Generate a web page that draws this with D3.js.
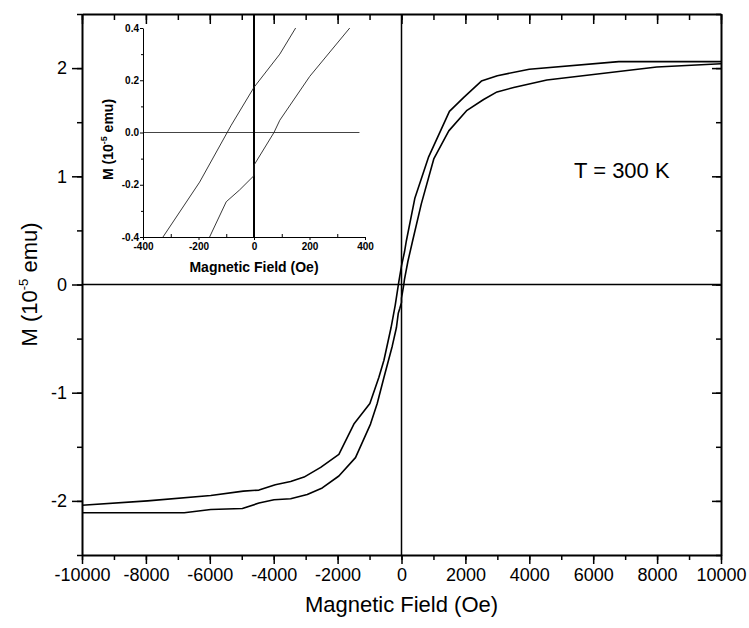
<!DOCTYPE html>
<html>
<head>
<meta charset="utf-8">
<script src="https://cdn.jsdelivr.net/npm/d3@7"></script>
<style>
  body { margin: 0; background: #fff; }
  text { font-family: "Liberation Sans", Arial, sans-serif; fill: #000; }
</style>
</head>
<body>
<div id="chart"></div>
<script>
// Hysteresis loop, field in Oe, M in 10^-5 emu
// descending branch (+10000 -> -10000)
const downField = [10000, 6800, 4000, 3000, 2500, 1950, 1500, 850, 420, 150, 93, 0, -82, -196, -328, -550, -710, -990, -1490, -1960, -2530, -3050, -3470, -3950, -4460, -4950, -5970, -7950, -10000];
const downM     = [2.06, 2.06, 1.99, 1.93, 1.88, 1.73, 1.60, 1.18, 0.80, 0.40, 0.30, 0.173, 0.028, -0.19, -0.40, -0.70, -0.86, -1.10, -1.29, -1.57, -1.69, -1.78, -1.82, -1.85, -1.90, -1.91, -1.95, -2.00, -2.04];

// ascending branch (-10000 -> +10000)
const upField = [-10000, -6800, -5970, -4980, -4460, -3990, -3470, -2950, -2480, -1960, -1440, -970, -760, -550, -290, -160, -100, -52, 0, 0, 72, 93, 201, 345, 620, 1010, 1480, 2050, 2570, 2990, 3510, 4550, 7990, 10000];
const upM     = [-2.11, -2.11, -2.08, -2.07, -2.02, -1.99, -1.98, -1.94, -1.88, -1.77, -1.60, -1.29, -1.10, -0.86, -0.57, -0.40, -0.265, -0.22, -0.165, -0.125, 0, 0.047, 0.215, 0.40, 0.745, 1.16, 1.42, 1.61, 1.71, 1.78, 1.82, 1.89, 2.01, 2.04];

// tick values
const xMajor = d3.range(-10000, 10001, 2000);
const xMinor = d3.range(-10000, 10001, 1000);
const yMajor = [-2, -1, 0, 1, 2];
const yMinor = [-2.5, -2, -1.5, -1, -0.5, 0, 0.5, 1, 1.5, 2, 2.5];
const insetXMajor = [-400, -200, 0, 200, 400];
const insetXMinor = [-300, -100, 100, 300];
const insetYMajor = [-0.4, -0.2, 0, 0.2, 0.4];
const insetYMinor = [-0.3, -0.1, 0.1, 0.3];

const downBranch = downField.map((f, i) => ({ f, m: downM[i] }));
const upBranch = upField.map((f, i) => ({ f, m: upM[i] }));

const W = 749, H = 628;
const svg = d3.select("#chart").append("svg")
  .attr("width", W)
  .attr("height", H);

// Main axes
const x = d3.scaleLinear().domain([-10000, 10000]).range([82, 721]);
const y = d3.scaleLinear().domain([-2.5, 2.5]).range([555, 14]);

// zero lines
svg.append("line")
  .attr("x1", x(-10000)).attr("x2", x(10000))
  .attr("y1", y(0)).attr("y2", y(0))
  .attr("stroke", "#000").attr("stroke-width", 1.5);
svg.append("line")
  .attr("x1", x(0)).attr("x2", x(0))
  .attr("y1", y(2.5)).attr("y2", y(-2.5))
  .attr("stroke", "#000").attr("stroke-width", 1.5);

// curves
const line = d3.line().x(d => x(d.f)).y(d => y(d.m));
[downBranch, upBranch].forEach(b => {
  svg.append("path")
    .datum(b)
    .attr("fill", "none")
    .attr("stroke", "#000")
    .attr("stroke-width", 1.6)
    .attr("stroke-linejoin", "round")
    .attr("d", line);
});

// bottom axis (outward ticks)
svg.append("g")
  .attr("transform", `translate(0,${y(-2.5)})`)
  .call(d3.axisBottom(x).tickValues(xMinor).tickSize(5).tickFormat(""))
  .call(g => g.select(".domain").remove())
  .selectAll("line").attr("stroke-width", 1.5);
svg.append("g")
  .attr("transform", `translate(0,${y(-2.5)})`)
  .call(d3.axisBottom(x).tickValues(xMajor).tickSize(9).tickPadding(4).tickSizeOuter(0).tickFormat(d => String(d)))
  .call(g => g.select(".domain").attr("stroke-width", 2))
  .call(g => g.selectAll("line").attr("stroke-width", 1.5))
  .call(g => g.selectAll("text").style("font-size", "18px").style("font-family", "Liberation Sans, Arial"));

// top axis (inward ticks)
svg.append("g")
  .attr("transform", `translate(0,${y(2.5)})`)
  .call(d3.axisTop(x).tickValues(xMinor).tickSize(-6).tickFormat(""))
  .call(g => g.select(".domain").remove())
  .selectAll("line").attr("stroke-width", 1.5);
svg.append("g")
  .attr("transform", `translate(0,${y(2.5)})`)
  .call(d3.axisTop(x).tickValues(xMajor).tickSize(-10).tickFormat("").tickSizeOuter(0))
  .call(g => g.select(".domain").attr("stroke-width", 2))
  .selectAll("line").attr("stroke-width", 1.5);

// left axis (outward ticks)
svg.append("g")
  .attr("transform", `translate(${x(-10000)},0)`)
  .call(d3.axisLeft(y).tickValues(yMinor).tickSize(5).tickFormat(""))
  .call(g => g.select(".domain").remove())
  .selectAll("line").attr("stroke-width", 1.5);
svg.append("g")
  .attr("transform", `translate(${x(-10000)},0)`)
  .call(d3.axisLeft(y).tickValues(yMajor).tickSize(10).tickPadding(5).tickSizeOuter(0).tickFormat(d => String(d)))
  .call(g => g.select(".domain").attr("stroke-width", 2))
  .call(g => g.selectAll("line").attr("stroke-width", 1.5))
  .call(g => g.selectAll("text").style("font-size", "18px").style("font-family", "Liberation Sans, Arial"));

// right axis (inward ticks)
svg.append("g")
  .attr("transform", `translate(${x(10000)},0)`)
  .call(d3.axisRight(y).tickValues(yMinor).tickSize(-5).tickFormat(""))
  .call(g => g.select(".domain").remove())
  .selectAll("line").attr("stroke-width", 1.5);
svg.append("g")
  .attr("transform", `translate(${x(10000)},0)`)
  .call(d3.axisRight(y).tickValues(yMajor).tickSize(-9).tickFormat("").tickSizeOuter(0))
  .call(g => g.select(".domain").attr("stroke-width", 2))
  .selectAll("line").attr("stroke-width", 1.5);

// axis titles
svg.append("text")
  .attr("x", x(0))
  .attr("y", 612)
  .attr("text-anchor", "middle")
  .style("font-size", "22px")
  .text("Magnetic Field (Oe)");

const yTitle = svg.append("text")
  .attr("transform", `translate(37,${y(0)}) rotate(-90)`)
  .attr("text-anchor", "middle")
  .style("font-size", "22px");
yTitle.append("tspan").text("M (10");
yTitle.append("tspan").attr("dy", -9).style("font-size", "13px").text("-5");
yTitle.append("tspan").attr("dy", 9).text(" emu)");

// temperature label
svg.append("text")
  .attr("x", x(5400))
  .attr("y", y(0.98))
  .style("font-size", "22px")
  .text("T = 300 K");

// ---- Inset ----
const ix = d3.scaleLinear().domain([-400, 400]).range([143, 365]);
const iy = d3.scaleLinear().domain([-0.4, 0.4]).range([237, 28]);

svg.append("clipPath").attr("id", "inset-clip")
  .append("rect")
  .attr("x", ix(-400)).attr("y", iy(0.4))
  .attr("width", ix(400) - ix(-400))
  .attr("height", iy(-0.4) - iy(0.4));

// inset zero lines
svg.append("line")
  .attr("x1", ix(-400)).attr("x2", ix(380))
  .attr("y1", iy(0)).attr("y2", iy(0))
  .attr("stroke", "#444").attr("stroke-width", 1);
svg.append("line")
  .attr("x1", ix(0)).attr("x2", ix(0))
  .attr("y1", y(2.5)).attr("y2", iy(-0.4))
  .attr("stroke", "#000").attr("stroke-width", 2);

const iline = d3.line().x(d => ix(d.f)).y(d => iy(d.m));
[downBranch, upBranch].forEach(b => {
  svg.append("path")
    .datum(b)
    .attr("clip-path", "url(#inset-clip)")
    .attr("fill", "none")
    .attr("stroke", "#222")
    .attr("stroke-width", 0.9)
    .attr("d", iline);
});

// inset bottom axis
svg.append("g")
  .attr("transform", `translate(0,${iy(-0.4)})`)
  .call(d3.axisBottom(ix).tickValues(insetXMinor).tickSize(-3).tickFormat(""))
  .call(g => g.select(".domain").remove());
svg.append("g")
  .attr("transform", `translate(0,${iy(-0.4)})`)
  .call(d3.axisBottom(ix).tickValues(insetXMajor).tickSize(3).tickPadding(3).tickSizeOuter(0).tickFormat(d => String(d)))
  .call(g => g.selectAll("text").style("font-size", "10px").style("font-weight", "bold").style("font-family", "Liberation Sans, Arial"));

// inset left axis
svg.append("g")
  .attr("transform", `translate(${ix(-400)},0)`)
  .call(d3.axisLeft(iy).tickValues(insetYMinor).tickSize(2).tickFormat(""))
  .call(g => g.select(".domain").remove());
svg.append("g")
  .attr("transform", `translate(${ix(-400)},0)`)
  .call(d3.axisLeft(iy).tickValues(insetYMajor).tickSize(3).tickPadding(1).tickSizeOuter(0).tickFormat(d => d.toFixed(1)))
  .call(g => g.selectAll("text").style("font-size", "10px").style("font-weight", "bold").style("font-family", "Liberation Sans, Arial"));

// inset titles
svg.append("text")
  .attr("x", ix(0))
  .attr("y", 272)
  .attr("text-anchor", "middle")
  .style("font-size", "14px")
  .style("font-weight", "bold")
  .text("Magnetic Field (Oe)");

const iyTitle = svg.append("text")
  .attr("transform", `translate(113,${iy(0) + 7}) rotate(-90)`)
  .attr("text-anchor", "middle")
  .style("font-size", "14px")
  .style("font-weight", "bold");
iyTitle.append("tspan").text("M (10");
iyTitle.append("tspan").attr("dy", -6).style("font-size", "9px").text("-5");
iyTitle.append("tspan").attr("dy", 6).text(" emu)");
</script>
</body>
</html>
